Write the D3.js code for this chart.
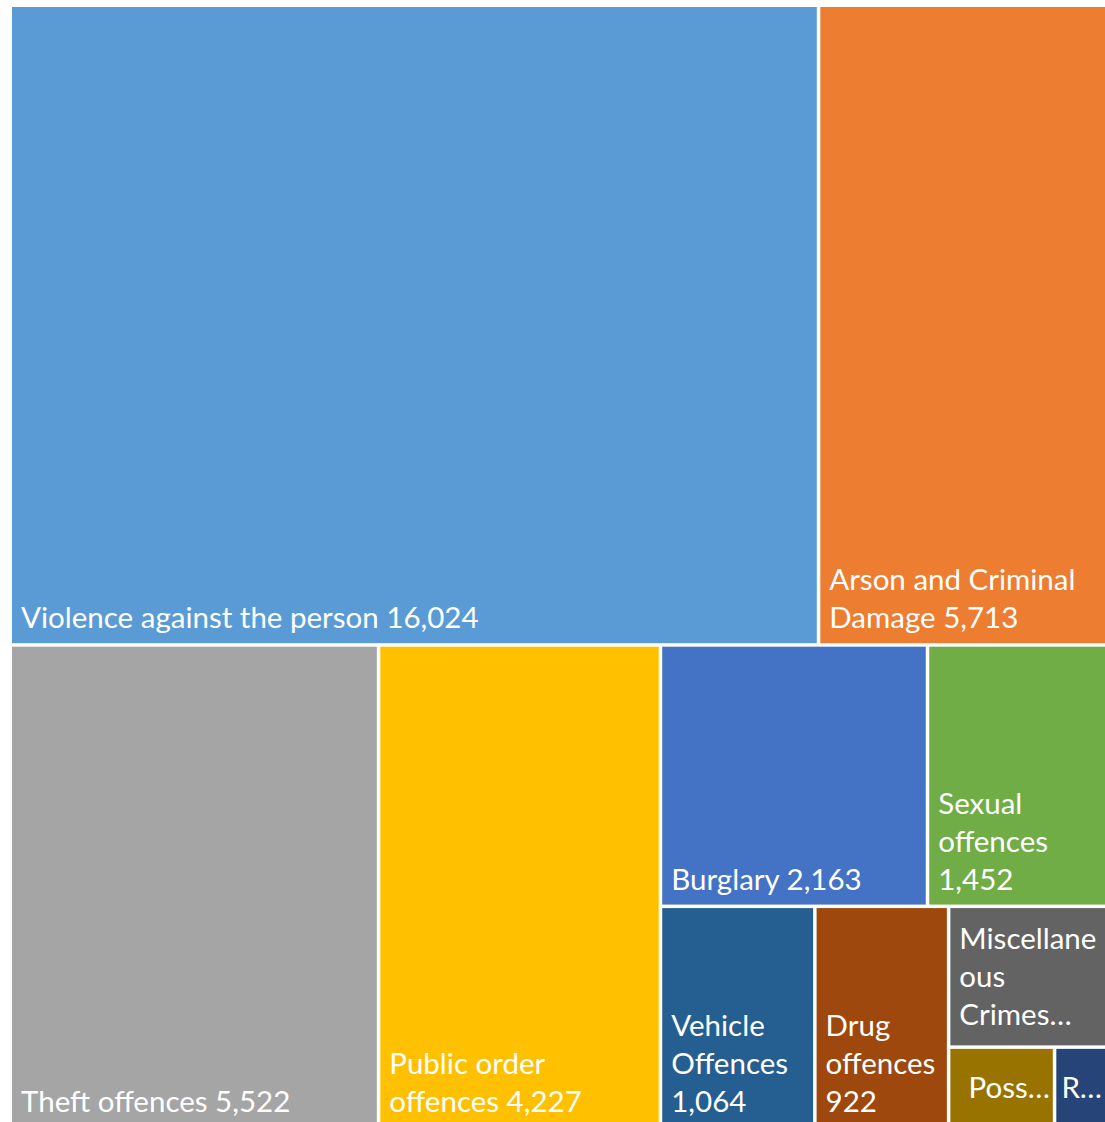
<!DOCTYPE html>
<meta charset="utf-8">
<script src="https://cdn.jsdelivr.net/npm/d3@7"></script>
<style>
  body {
    margin: 0;
    background: #fff;
  }

  .label {
    fill: #fff;
    font-family: Lato, sans-serif;
    font-size: 29.5px;
  }
</style>

<div id="chart"></div>

<script>
  // Data
  const categories = [
    "Violence against the person",
    "Arson and Criminal Damage",
    "Theft offences",
    "Public order offences",
    "Burglary",
    "Sexual offences",
    "Vehicle Offences",
    "Drug offences",
    "Miscellaneous Crimes Against Society",
    "Possession of Weapons Offences",
    "Robbery"
  ];
  const values = [16024, 5713, 5522, 4227, 2163, 1452, 1064, 922, 690, 268, 132];
  const colors = [
    "#5b9bd5", "#ed7d31", "#a5a5a5", "#ffc000", "#4472c4", "#70ad47",
    "#255e91", "#9e480e", "#636363", "#997300", "#264478"
  ];

  // Size config
  const margin = { top: 7, left: 12 },
    width = 1093,
    height = 1120;

  const svg = d3.select("#chart")
    .append("svg")
    .attr("width", 1105)
    .attr("height", 1122)
    .append("g")
    .attr("transform", `translate(${margin.left},${margin.top})`);

  const color = d3.scaleOrdinal()
    .domain(categories)
    .range(colors);

  const root = d3.hierarchy({ children: categories.map((c, i) => ({ name: c, value: values[i] })) })
    .sum(d => d.value || 0);

  d3.treemap()
    .tile(d3.treemapSquarify.ratio(1))
    .size([width, height])
    .paddingInner(3.5)(root);

  const leaf = svg.selectAll("g.cell")
    .data(root.leaves())
    .join("g")
    .attr("class", "cell");

  leaf.append("rect")
    .attr("x", d => d.x0)
    .attr("y", d => d.y0)
    .attr("width", d => d.x1 - d.x0)
    .attr("height", d => d.y1 - d.y0)
    .attr("fill", d => color(d.data.name));

  // Labels: wrap to the box, bottom-left; if too many lines, cut and centre
  const fmt = d3.format(",");
  const pad = 9, lineH = 38, capH = 21;

  leaf.each(function (d) {
    const w = d.x1 - d.x0, h = d.y1 - d.y0;
    const maxW = w - 2 * pad + 2;
    const text = d3.select(this).append("text").attr("class", "label");
    const probe = text.append("tspan");
    const widthOf = s => { probe.text(s); return probe.node().getComputedTextLength(); };
    const fits = s => widthOf(s) <= maxW;

    const words = `${d.data.name} ${fmt(d.data.value)}`.split(" ");
    let lines = [], cur = "";
    words.forEach(word => {
      const tryLine = cur ? cur + " " + word : word;
      if (fits(tryLine)) { cur = tryLine; return; }
      if (cur) lines.push(cur);
      cur = word;
      while (cur.length > 1 && !fits(cur)) {
        let k = cur.length - 1;
        while (k > 1 && !fits(cur.slice(0, k))) k--;
        lines.push(cur.slice(0, k));
        cur = cur.slice(k);
      }
    });
    if (cur) lines.push(cur);

    const maxLines = Math.max(1, Math.floor((h - 20) / lineH));
    let cut = false;
    if (lines.length > maxLines) {
      cut = true;
      lines = lines.slice(0, maxLines);
      let last = lines[maxLines - 1];
      while (last.length > 1 && !fits(last + "…")) last = last.slice(0, -1);
      lines[maxLines - 1] = last + "…";
    }
    probe.remove();

    let y0;
    if (cut) y0 = (d.y0 + d.y1) / 2 - (lines.length - 1) * lineH / 2 + capH / 2;
    else y0 = d.y1 - 15 - (lines.length - 1) * lineH;

    lines.forEach((l, i) => {
      const t = text.append("tspan").text(l).attr("y", y0 + i * lineH);
      let x = d.x0 + pad;
      if (cut && lines.length === 1) {
        const tw = t.node().getComputedTextLength();
        x = d.x0 + Math.max(4, Math.min((w - tw) / 2 + 10, w - tw - 3));
      }
      t.attr("x", x);
    });
  });
</script>
